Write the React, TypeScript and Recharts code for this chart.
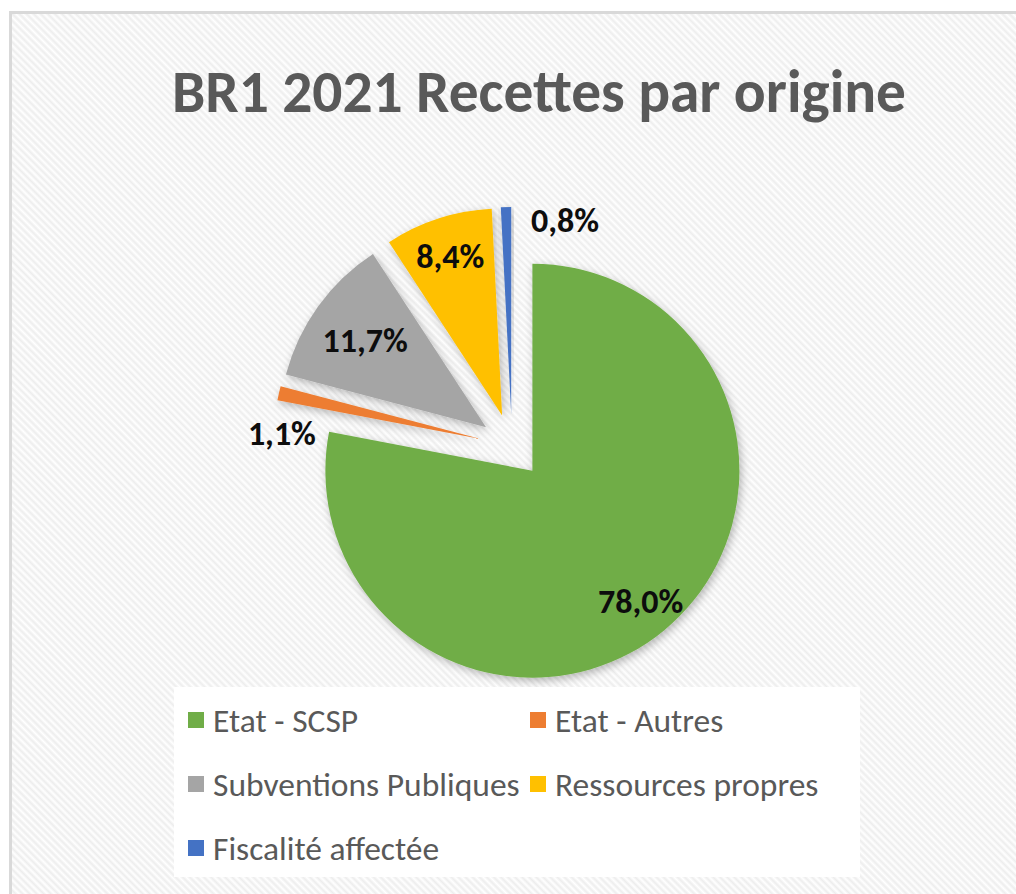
import React from "react";
import { PieChart, Pie, Cell, Legend } from "recharts";

const categories = [
  "Etat - SCSP",
  "Etat - Autres",
  "Subventions Publiques",
  "Ressources propres",
  "Fiscalité affectée",
];
const shares = [78.0, 1.1, 11.7, 8.4, 0.8];
const colors = ["#70AD47", "#ED7D31", "#A5A5A5", "#FFC000", "#4472C4"];
const chartTitle = "BR1 2021 Recettes par origine";

const W = 1016;
const H = 894;
const CX = 512;
const CY = 446;
const R = 207;
const EXPLODE = 32;
const RAD = Math.PI / 180;
const FONT = "Carlito, Lato, 'Open Sans', sans-serif";

// where each data label sits: fraction of the radius + a nudge (excel "best fit")
const labelPos = [
  { r: 0.82, dx: 0, dy: 0 },
  { r: 1, dx: 3, dy: 40 },
  { r: 0.72, dx: 0, dy: 0 },
  { r: 0.81, dx: 0, dy: 0 },
  { r: 1, dx: 59, dy: 13 },
];

const total = shares.reduce((a, b) => a + b, 0);
let acc = 0;
const slices = shares.map((v, i) => {
  const start = 90 - (acc / total) * 360;
  acc += v;
  const end = 90 - (acc / total) * 360;
  const mid = (start + end) / 2;
  return {
    name: categories[i],
    value: v,
    start,
    end,
    dx: EXPLODE * Math.cos(mid * RAD),
    dy: -EXPLODE * Math.sin(mid * RAD),
  };
});

const fmt = (v: number) => v.toFixed(1).replace(".", ",") + "%";

const renderLabel = (i: number) => (props: any) => {
  const { cx, cy, midAngle, outerRadius } = props;
  const p = labelPos[i];
  const x = cx + outerRadius * p.r * Math.cos(-midAngle * RAD) + p.dx;
  const y = cy + outerRadius * p.r * Math.sin(-midAngle * RAD) + p.dy;
  return (
    <text
      x={x}
      y={y}
      textAnchor="middle"
      dominantBaseline="central"
      fontFamily={FONT}
      fontWeight={700}
      fontSize={34}
      fill="#0d0d0d"
    >
      {fmt(props.value ?? shares[i])}
    </text>
  );
};

const LegendBox = () => (
  <svg width={686} height={190} style={{ display: "block" }}>
    <rect width={686} height={190} fill="#ffffff" />
    {categories.map((c, i) => {
      const col = i % 2;
      const row = Math.floor(i / 2);
      const x = 14 + col * 342;
      const y = 33 + row * 64;
      return (
        <g key={c}>
          <rect x={x} y={y - 8} width={16} height={16} fill={colors[i]} />
          <text x={x + 25} y={y + 12} fontSize={33.5} fill="#595959" fontFamily={FONT}>
            {c}
          </text>
        </g>
      );
    })}
  </svg>
);

export default function App() {
  return (
    <div
      style={{
        position: "absolute",
        left: 0,
        top: 0,
        width: W,
        height: H,
        background: "#fff",
        overflow: "hidden",
      }}
    >
      <div
        style={{
          position: "absolute",
          left: 9,
          top: 11,
          width: W,
          height: H,
          borderLeft: "3px solid #d9d9d9",
          borderTop: "3px solid #d9d9d9",
          background:
            "repeating-linear-gradient(45deg, #ffffff 0px, #ededed 2.5px, #ffffff 5px)",
        }}
      />
      <svg width={0} height={0} style={{ position: "absolute" }}>
        <defs>
          <filter id="sliceShadow" x="-20%" y="-20%" width="140%" height="140%">
            <feDropShadow dx="2" dy="3" stdDeviation="4" floodColor="#000" floodOpacity="0.28" />
          </filter>
        </defs>
      </svg>
      <svg width={W} height={160} style={{ position: "absolute", left: 0, top: 0 }}>
        <text
          x={539}
          y={112}
          textAnchor="middle"
          fontFamily={FONT}
          fontWeight={700}
          fontSize={60}
          fill="#595959"
          textLength={734}
          lengthAdjust="spacingAndGlyphs"
        >
          {chartTitle}
        </text>
      </svg>
      <div style={{ position: "absolute", left: 0, top: 0 }}>
        <PieChart width={W} height={H} margin={{ top: 0, right: 0, bottom: 0, left: 0 }}>
          {slices.map((s, i) => (
            <Pie
              key={s.name}
              data={[{ name: s.name, value: s.value }]}
              dataKey="value"
              nameKey="name"
              cx={CX + s.dx}
              cy={CY + s.dy}
              outerRadius={R}
              startAngle={s.start}
              endAngle={s.end}
              stroke="none"
              label={renderLabel(i)}
              labelLine={false}
              isAnimationActive={false}
            >
              <Cell fill={colors[i]} filter="url(#sliceShadow)" />
            </Pie>
          ))}
          <Legend
            verticalAlign="bottom"
            wrapperStyle={{ left: 174, top: 687, width: 686, height: 190 }}
            content={() => <LegendBox />}
          />
        </PieChart>
      </div>
    </div>
  );
}
